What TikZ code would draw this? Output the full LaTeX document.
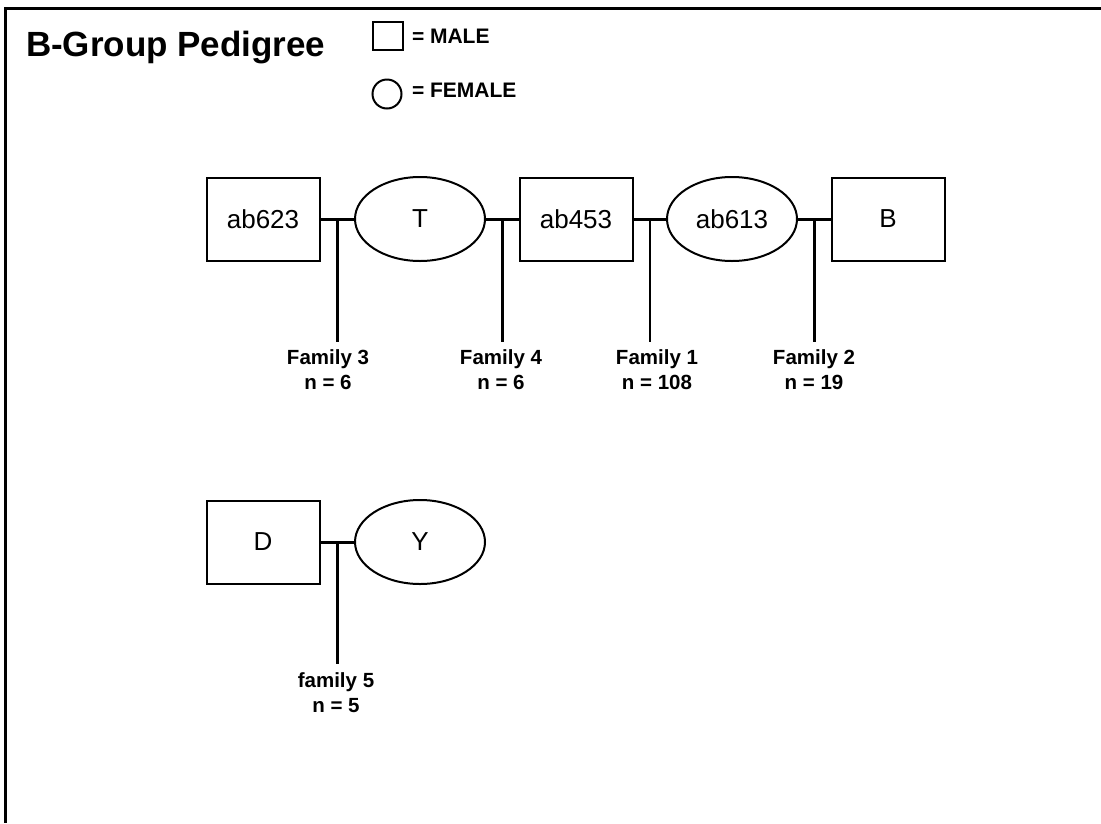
\documentclass[tikz,border=0pt]{standalone}
\usepackage{fontspec}
\setmainfont{Liberation Sans}
\usetikzlibrary{calc,shapes.geometric}

\begin{document}
\begin{tikzpicture}[x=1pt, y=-1pt, line width=2pt,
  male/.style={draw, rectangle, minimum width=113pt, minimum height=83pt, inner sep=0pt, font=\fontsize{26}{30}\selectfont},
  female/.style={draw, ellipse, minimum width=130pt, minimum height=84pt, inner sep=0pt, font=\fontsize{26}{30}\selectfont},
  couple/.style={line width=3pt},
  offspring/.style={line width=2.5pt},
  family/.style={anchor=north, align=center, inner sep=0pt, font=\bfseries\fontsize{20.5}{25}\selectfont},
  legend/.style={anchor=base west, inner sep=0pt, font=\bfseries\fontsize{21}{24}\selectfont}]
\useasboundingbox (0,0) rectangle (1101,823);
% cornice
\draw[line width=3pt] (1101,8) -- (5,8) -- (5,823);
\node[anchor=base west, inner sep=0pt, font=\bfseries\fontsize{35}{38}\selectfont] (title) at (25,56) {B-Group Pedigree};
\node[draw, minimum width=30pt, minimum height=28pt, inner sep=0pt] (keym) at (388,36) {};
\node[legend] (keymt) at (411,43) {= MALE};
\node[draw, circle, minimum size=29pt, inner sep=0pt] (keyf) at (387,94) {};
\node[legend] (keyft) at (411,97) {= FEMALE};
% prima generazione
\node[male]   (ab623) at (263,219) {ab623};
\node[female] (T)     at (420,219) {T};
\node[male]   (ab453) at (576,219) {ab453};
\node[female] (ab613) at (732,219) {ab613};
\node[male]   (B)     at (888,219) {B};
\node[male]   (D)     at (263,542) {D};
\node[female] (Y)     at (420,542) {Y};
% unioni
\draw[couple] (ab623.east) -- (T.west);
\draw[couple] (T.east) -- (ab453.west);
\draw[couple] (ab453.east) -- (ab613.west);
\draw[couple] (ab613.east) -- (B.west);
\draw[couple] (D.east) -- (Y.west);
\coordinate (u3) at ($(ab623.east)!0.5!(T.west)$);
\coordinate (u4) at ($(T.east)!0.5!(ab453.west)$);
\coordinate (u1) at ($(ab453.east)!0.5!(ab613.west)$);
\coordinate (u2) at ($(ab613.east)!0.5!(B.west)$);
\coordinate (u5) at ($(D.east)!0.5!(Y.west)$);
% famiglie
\node[family] (f3) at (328,349) {Family 3\\n = 6};
\node[family] (f4) at (501,349) {Family 4\\n = 6};
\node[family] (f1) at (657,349) {Family 1\\n = 108};
\node[family] (f2) at (814,349) {Family 2\\n = 19};
\node[family] (f5) at (336,672) {family 5\\n = 5};
\draw[offspring] (u3) -- (u3 |- 0,342);
\draw[offspring] (u4) -- (u4 |- 0,342);
\draw[offspring] (u1) -- (u1 |- 0,342);
\draw[offspring] (u2) -- (u2 |- 0,342);
\draw[offspring] (u5) -- (u5 |- 0,664);
\end{tikzpicture}
\end{document}
